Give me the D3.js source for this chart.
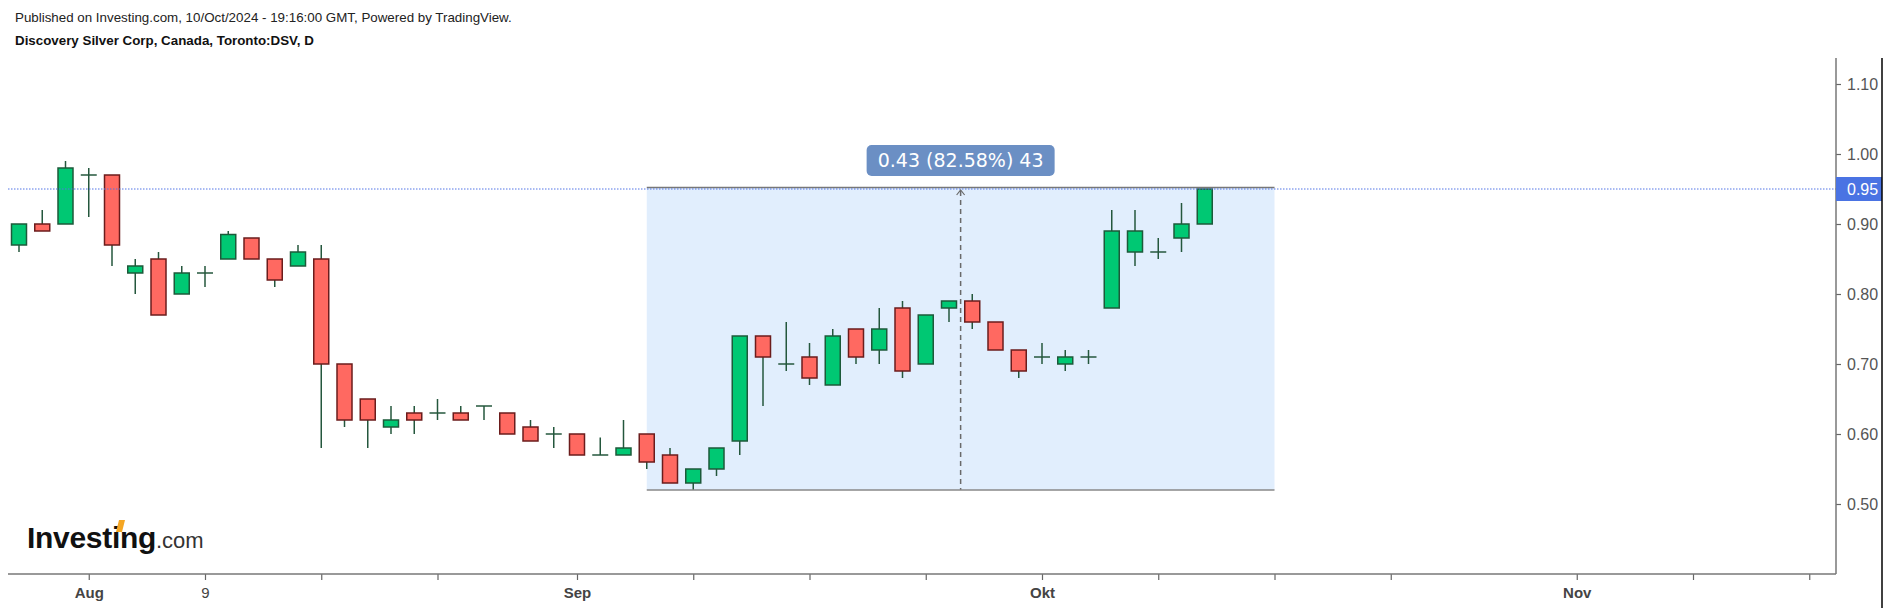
<!DOCTYPE html>
<html>
<head>
<meta charset="utf-8">
<script src="https://cdn.jsdelivr.net/npm/d3@7"></script>
<style>
  body { margin: 0; background: #fff; }
  svg { display: block; font-family: 'Liberation Sans', Arial, sans-serif; }
</style>
</head>
<body>
<svg id="chart" width="1891" height="608"></svg>
<script>
// daily bars, Toronto:DSV
const dates = [
  '2024-07-29', '2024-07-30', '2024-07-31', '2024-08-01', '2024-08-02',
  '2024-08-06', '2024-08-07', '2024-08-08', '2024-08-09',
  '2024-08-12', '2024-08-13', '2024-08-14', '2024-08-15', '2024-08-16',
  '2024-08-19', '2024-08-20', '2024-08-21', '2024-08-22', '2024-08-23',
  '2024-08-26', '2024-08-27', '2024-08-28', '2024-08-29', '2024-08-30',
  '2024-09-03', '2024-09-04', '2024-09-05', '2024-09-06',
  '2024-09-09', '2024-09-10', '2024-09-11', '2024-09-12', '2024-09-13',
  '2024-09-16', '2024-09-17', '2024-09-18', '2024-09-19', '2024-09-20',
  '2024-09-23', '2024-09-24', '2024-09-25', '2024-09-26', '2024-09-27',
  '2024-09-30', '2024-10-01', '2024-10-02', '2024-10-03', '2024-10-04',
  '2024-10-07', '2024-10-08', '2024-10-09', '2024-10-10'
];
const open = [
  0.87, 0.90, 0.90, 0.97, 0.97, 0.83, 0.85, 0.80, 0.83, 0.85, 0.88, 0.85, 0.84,
  0.85, 0.70, 0.65, 0.61, 0.63, 0.63, 0.63, 0.64, 0.63, 0.61, 0.60, 0.60, 0.57,
  0.57, 0.60, 0.57, 0.53, 0.55, 0.59, 0.74, 0.70, 0.71, 0.67, 0.75, 0.72, 0.78,
  0.70, 0.78, 0.79, 0.76, 0.72, 0.71, 0.70, 0.71, 0.78, 0.86, 0.86, 0.88, 0.90
];
const high = [
  0.90, 0.92, 0.99, 0.98, 0.97, 0.85, 0.86, 0.84, 0.84, 0.89, 0.88, 0.85, 0.87,
  0.87, 0.70, 0.65, 0.64, 0.64, 0.65, 0.64, 0.64, 0.63, 0.62, 0.61, 0.60, 0.595,
  0.62, 0.60, 0.58, 0.55, 0.58, 0.74, 0.74, 0.76, 0.73, 0.75, 0.75, 0.78, 0.79,
  0.77, 0.79, 0.80, 0.76, 0.72, 0.73, 0.72, 0.72, 0.92, 0.92, 0.88, 0.93, 0.95
];
const low = [
  0.86, 0.89, 0.90, 0.91, 0.84, 0.80, 0.77, 0.80, 0.81, 0.85, 0.85, 0.81, 0.84,
  0.58, 0.61, 0.58, 0.60, 0.60, 0.62, 0.62, 0.62, 0.60, 0.59, 0.58, 0.57, 0.57,
  0.57, 0.55, 0.53, 0.52, 0.54, 0.57, 0.64, 0.69, 0.67, 0.67, 0.70, 0.70, 0.68,
  0.70, 0.76, 0.75, 0.72, 0.68, 0.70, 0.69, 0.70, 0.78, 0.84, 0.85, 0.86, 0.90
];
const close = [
  0.90, 0.89, 0.98, 0.97, 0.87, 0.84, 0.77, 0.83, 0.83, 0.885, 0.85, 0.82, 0.86,
  0.70, 0.62, 0.62, 0.62, 0.62, 0.63, 0.62, 0.64, 0.60, 0.59, 0.60, 0.57, 0.57,
  0.58, 0.56, 0.53, 0.55, 0.58, 0.74, 0.71, 0.70, 0.68, 0.74, 0.71, 0.75, 0.69,
  0.77, 0.79, 0.76, 0.72, 0.69, 0.71, 0.71, 0.71, 0.89, 0.89, 0.86, 0.90, 0.95
];

const priceTicks = [0.50, 0.60, 0.70, 0.80, 0.90, 1.00, 1.10];
const lastPrice = 0.95;
const timeTicks = [
  '2024-08-01', '2024-08-09', '2024-08-16', '2024-08-23', '2024-09-03',
  '2024-09-10', '2024-09-17', '2024-09-24', '2024-10-01', '2024-10-08',
  '2024-10-15', '2024-10-22', '2024-11-01', '2024-11-08', '2024-11-15'
];
const timeTickLabels = ['Aug', '9', '', '', 'Sep', '', '', '', 'Okt', '', '', '', 'Nov', '', ''];
const boldLabels = ['Aug', 'Sep', 'Okt', 'Nov'];

// price range drawing
const rangeFrom = '2024-09-06';
const rangeTo = '2024-10-15';
const rangeLow = 0.52;
const rangeHigh = 0.95;
const rangeText = '0.43 (82.58%) 43';

// the future side of the time scale just continues on weekdays
const calendar = dates.slice();
const endDay = new Date('2024-11-22T00:00:00Z');
for (let d = new Date(dates[dates.length - 1] + 'T00:00:00Z'); d < endDay;) {
  d = new Date(d.getTime() + 86400000);
  const wd = d.getUTCDay();
  if (wd !== 0 && wd !== 6) calendar.push(d.toISOString().slice(0, 10));
}
const idx = s => calendar.indexOf(s);

const svg = d3.select('#chart');
svg.append('rect').attr('width', 1891).attr('height', 608).attr('fill', '#fff');

const x = d3.scaleLinear().domain([0, 77]).range([19, 1809.25]);
const y = d3.scaleLinear().domain([0.5, 1.1]).range([504, 84]);

const axisRight = 1836;
const axisBottom = 574;

// header
svg.append('text')
  .attr('x', 15).attr('y', 22)
  .attr('font-size', 13.35).attr('fill', '#222')
  .text('Published on Investing.com, 10/Oct/2024 - 19:16:00 GMT, Powered by TradingView.');
svg.append('text')
  .attr('x', 15).attr('y', 45)
  .attr('font-size', 13.35).attr('font-weight', 'bold').attr('fill', '#111')
  .text('Discovery Silver Corp, Canada, Toronto:DSV, D');

// range box behind the bars
const rx0 = x(idx(rangeFrom));
const rx1 = x(idx(rangeTo));
const rcx = (rx0 + rx1) / 2;
svg.append('rect')
  .attr('x', rx0).attr('y', y(rangeHigh) - 1.5)
  .attr('width', rx1 - rx0).attr('height', y(rangeLow) - y(rangeHigh) + 1.5)
  .attr('fill', '#e1eefd');
svg.append('line')
  .attr('x1', rcx).attr('x2', rcx)
  .attr('y1', y(rangeHigh) + 2).attr('y2', y(rangeLow))
  .attr('stroke', '#6a6a6a').attr('stroke-width', 1.5)
  .attr('stroke-dasharray', '5,4');
svg.append('path')
  .attr('d', `M${rcx - 4},${y(rangeHigh) + 6}L${rcx},${y(rangeHigh) + 1}L${rcx + 4},${y(rangeHigh) + 6}`)
  .attr('fill', 'none').attr('stroke', '#6a6a6a').attr('stroke-width', 1.2);

// candles
const bars = dates.map((d, i) => ({ i, o: open[i], h: high[i], l: low[i], c: close[i] }));
const bw = 15;
const g = svg.append('g').attr('class', 'candles');
const candle = g.selectAll('g').data(bars).enter().append('g');

candle.append('line')
  .attr('x1', d => x(d.i)).attr('x2', d => x(d.i))
  .attr('y1', d => y(d.h)).attr('y2', d => y(d.l))
  .attr('stroke', '#24573d').attr('stroke-width', 1.5);

candle.filter(d => d.o !== d.c).append('rect')
  .attr('x', d => x(d.i) - bw / 2)
  .attr('y', d => y(Math.max(d.o, d.c)))
  .attr('width', bw)
  .attr('height', d => Math.abs(y(d.o) - y(d.c)))
  .attr('fill', d => d.c > d.o ? '#00c873' : '#ff6961')
  .attr('stroke', d => d.c > d.o ? '#1c5a3a' : '#6b1c1c')
  .attr('stroke-width', 1.5);

candle.filter(d => d.o === d.c).append('line')
  .attr('x1', d => x(d.i) - 8).attr('x2', d => x(d.i) + 8)
  .attr('y1', d => y(d.c)).attr('y2', d => y(d.c))
  .attr('stroke', '#24573d').attr('stroke-width', 1.5);

// range box edges and label
svg.append('line')
  .attr('x1', rx0).attr('x2', rx1)
  .attr('y1', y(rangeHigh) - 1.5).attr('y2', y(rangeHigh) - 1.5)
  .attr('stroke', '#777').attr('stroke-width', 1.5);
svg.append('line')
  .attr('x1', rx0).attr('x2', rx1)
  .attr('y1', y(rangeLow)).attr('y2', y(rangeLow))
  .attr('stroke', '#888').attr('stroke-width', 1.5);

// last price line
svg.append('line')
  .attr('x1', 8).attr('x2', axisRight)
  .attr('y1', y(lastPrice)).attr('y2', y(lastPrice))
  .attr('stroke', '#5275e6').attr('stroke-width', 1)
  .attr('stroke-dasharray', '1.5,1.5');

svg.append('rect')
  .attr('x', rcx - 94).attr('y', 145)
  .attr('width', 188).attr('height', 31).attr('rx', 5)
  .attr('fill', '#6b8fc4');
svg.append('text')
  .attr('x', rcx).attr('y', 167)
  .attr('text-anchor', 'middle')
  .attr('font-family', "'DejaVu Sans', Verdana, sans-serif")
  .attr('font-size', 19).attr('fill', '#fff')
  .text(rangeText);

// price axis
const yAxis = d3.axisRight(y)
  .tickValues(priceTicks)
  .tickFormat(d3.format('.2f'))
  .tickSize(5)
  .tickPadding(6);
const ya = svg.append('g')
  .attr('transform', `translate(${axisRight},0)`)
  .call(yAxis);
ya.select('.domain').remove();
ya.selectAll('.tick line').attr('stroke', '#666').attr('stroke-width', 1.2);
ya.selectAll('.tick text')
  .attr('font-family', "'Liberation Sans', Arial, sans-serif")
  .attr('font-size', 16).attr('fill', '#555');

svg.append('line')
  .attr('x1', axisRight).attr('x2', axisRight)
  .attr('y1', 58).attr('y2', axisBottom)
  .attr('stroke', '#777').attr('stroke-width', 1.5);

svg.append('rect')
  .attr('x', axisRight).attr('y', y(lastPrice) - 12)
  .attr('width', 46).attr('height', 24)
  .attr('fill', '#4a73e3');
svg.append('text')
  .attr('x', axisRight + 11).attr('y', y(lastPrice))
  .attr('dy', '0.35em')
  .attr('font-size', 16).attr('fill', '#fff')
  .text(d3.format('.2f')(lastPrice));

// time axis
const xAxis = d3.axisBottom(x)
  .tickValues(timeTicks.map(idx))
  .tickFormat((d, i) => timeTickLabels[i])
  .tickSize(6)
  .tickPadding(7);
const xa = svg.append('g')
  .attr('transform', `translate(0,${axisBottom})`)
  .call(xAxis);
xa.select('.domain').remove();
xa.selectAll('.tick line').attr('stroke', '#666').attr('stroke-width', 1.2);
xa.selectAll('.tick text')
  .attr('font-family', "'Liberation Sans', Arial, sans-serif")
  .attr('font-size', 15).attr('fill', '#444')
  .attr('font-weight', (d, i) => boldLabels.includes(timeTickLabels[i]) ? 'bold' : 'normal');

svg.append('line')
  .attr('x1', 8).attr('x2', axisRight)
  .attr('y1', axisBottom).attr('y2', axisBottom)
  .attr('stroke', '#777').attr('stroke-width', 1.5);

// outer right border
svg.append('line')
  .attr('x1', 1882).attr('x2', 1882)
  .attr('y1', 58).attr('y2', 608)
  .attr('stroke', '#000').attr('stroke-width', 1.5);

// watermark
const wm = svg.append('text')
  .attr('x', 27).attr('y', 548)
  .attr('fill', '#111');
wm.append('tspan')
  .attr('font-size', 30).attr('font-weight', 'bold')
  .attr('letter-spacing', -0.3)
  .text('Investing');
wm.append('tspan')
  .attr('font-size', 22).attr('fill', '#333')
  .text('.com');
svg.append('path')
  .attr('d', 'M116,532L119,520L125,520L122,532Z')
  .attr('fill', '#f5a623');
</script>
</body>
</html>
